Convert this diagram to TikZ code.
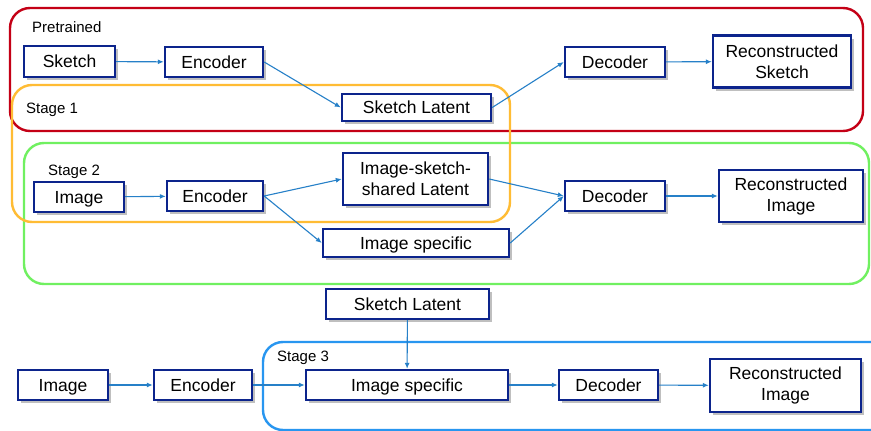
\documentclass[tikz,border=0pt]{standalone}
\usepackage{fontspec}
\setmainfont{Liberation Sans}
\usetikzlibrary{arrows.meta, shadows, positioning}
\definecolor{BoxBorder}{RGB}{12,36,140}
\definecolor{ArrowColor}{RGB}{38,128,200}
\definecolor{PretrainedColor}{RGB}{196,0,22}
\definecolor{StageOne}{RGB}{255,188,52}
\definecolor{StageTwo}{RGB}{112,240,96}
\definecolor{StageThree}{RGB}{40,150,240}
\tikzstyle{model_block}=[rectangle,
        draw=BoxBorder,
        line width=2.4pt,
        fill=white,
        align=center,
        inner sep=2pt,
        font=\fontsize{17.5}{21}\selectfont,
        drop shadow={shadow xshift=3pt, shadow yshift=-3pt, opacity=0.45, fill=black!55}, ]
\tikzstyle{one_line}=[text height=13pt, text depth=0.4pt]
\tikzstyle{stage_frame}=[line width=2.4pt, rounded corners=20pt]
\tikzstyle{stage_label}=[anchor=west, inner sep=0pt, font=\fontsize{15}{17}\selectfont]
\tikzstyle{flow_arrow}=[-{Latex[length=6pt,width=5pt]}, draw=ArrowColor, line width=1.1pt]

\begin{document}
\begin{tikzpicture}[x=1pt, y=-1pt]
    \clip (0,0) rectangle (871,431);
    \fill[white] (0,0) rectangle (871,431);

    % frames
    \draw[stage_frame, draw=PretrainedColor] (10,8) rectangle (863,131);
    \draw[stage_frame, draw=StageTwo] (24,143) rectangle (869,284);
    \draw[stage_frame, draw=StageOne] (12,85) rectangle (510,222);
    \draw[stage_frame, draw=StageThree] (263,342) rectangle (900,430);

    \node at (32,27) (pretrained) [stage_label] {Pretrained};
    \node at (26,110) (stage1) [stage_label] {Stage 1};
    \node at (48,172) (stage2) [stage_label] {Stage 2};
    \node at (277,358) (stage3) [stage_label] {Stage 3};

    % pretrained sketch model
    \node at (69.5,61.5) (sketch) [model_block, one_line, minimum width=91pt, minimum height=31pt] {Sketch};
    \node at (214,62) (enc1) [model_block, one_line, minimum width=98pt, minimum height=30pt] {Encoder};
    \node at (416.5,107.5) (slat1) [model_block, one_line, minimum width=149pt, minimum height=27pt] {Sketch Latent};
    \node at (615,62) (dec1) [model_block, one_line, minimum width=100pt, minimum height=30pt] {Decoder};
    \node at (782,61.5) (recsketch) [model_block, minimum width=138pt, minimum height=52pt] {Reconstructed\\Sketch};

    % stage 2
    \node at (79,197) (img2) [model_block, one_line, minimum width=90pt, minimum height=30pt] {Image};
    \node at (215,196) (enc2) [model_block, one_line, minimum width=96pt, minimum height=30pt] {Encoder};
    \node at (415.5,179) (shared) [model_block, minimum width=145pt, minimum height=52pt] {Image-sketch-\\shared Latent};
    \node at (416,243) (spec2) [model_block, one_line, minimum width=186pt, minimum height=28pt] {Image specific};
    \node at (615,196) (dec2) [model_block, one_line, minimum width=100pt, minimum height=30pt] {Decoder};
    \node at (791,196) (recimg2) [model_block, minimum width=144pt, minimum height=52pt] {Reconstructed\\Image};

    % stage 3
    \node at (407.5,304) (slat3) [model_block, one_line, minimum width=163pt, minimum height=30pt] {Sketch Latent};
    \node at (63,385) (img3) [model_block, one_line, minimum width=90pt, minimum height=30pt] {Image};
    \node at (203,385) (enc3) [model_block, one_line, minimum width=98pt, minimum height=30pt] {Encoder};
    \node at (407,385) (spec3) [model_block, one_line, minimum width=202pt, minimum height=30pt] {Image specific};
    \node at (608.5,385) (dec3) [model_block, one_line, minimum width=99pt, minimum height=30pt] {Decoder};
    \node at (785.5,385.5) (recimg3) [model_block, minimum width=151pt, minimum height=53pt] {Reconstructed\\Image};

    \draw[flow_arrow] (sketch) -- (enc1);
    \draw[flow_arrow] (enc1.east) -- (slat1.west);
    \draw[flow_arrow] (slat1.east) -- (dec1.west);
    \draw[flow_arrow] (dec1) -- (recsketch);

    \draw[flow_arrow] (img2) -- (enc2);
    \draw[flow_arrow] (enc2.east) -- (shared.west);
    \draw[flow_arrow] (enc2.east) -- (spec2.west);
    \draw[flow_arrow] (shared.east) -- (dec2.west);
    \draw[flow_arrow] (spec2.east) -- (dec2.west);
    \draw[flow_arrow] (dec2) -- (recimg2);

    \draw[flow_arrow] (slat3) -- (spec3);
    \draw[flow_arrow] (img3) -- (enc3);
    \draw[flow_arrow] (enc3) -- (spec3);
    \draw[flow_arrow] (spec3) -- (dec3);
    \draw[flow_arrow] (dec3) -- (recimg3);

\end{tikzpicture}
\end{document}
